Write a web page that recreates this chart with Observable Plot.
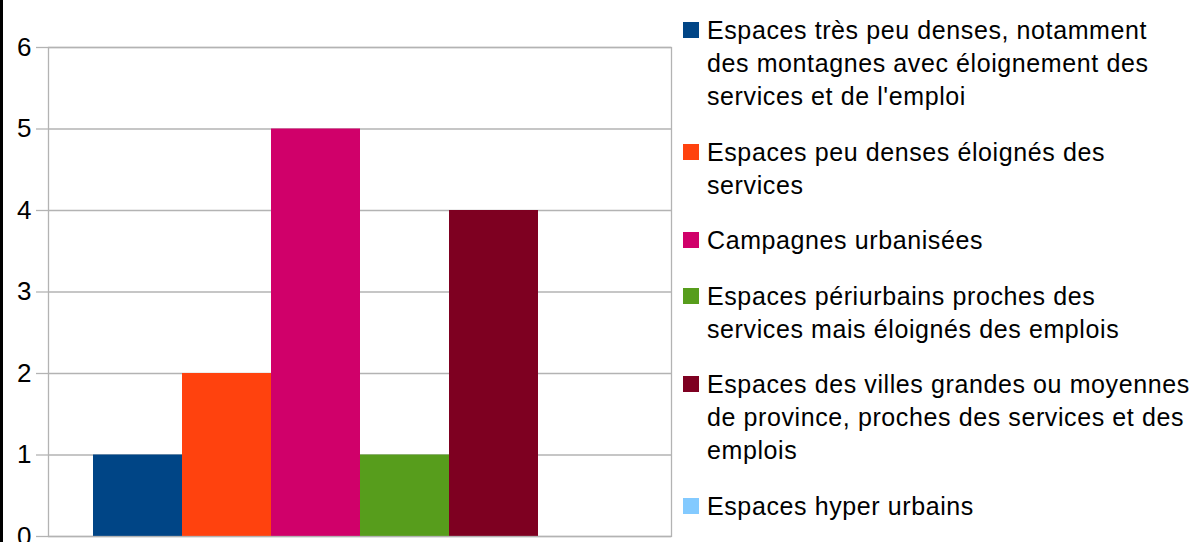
<!DOCTYPE html>
<html>
<head>
<meta charset="utf-8">
<script src="https://cdn.jsdelivr.net/npm/d3@7"></script>
<script src="https://cdn.jsdelivr.net/npm/@observablehq/plot@0.6"></script>
<style>
  html, body { margin: 0; padding: 0; background: #fff; }
  body { width: 1189px; height: 542px; position: relative; overflow: hidden; font-family: "Liberation Sans", Arial, sans-serif; }
  #border { position: absolute; left: 0; top: 0; width: 3px; height: 542px; background: #000; }
  #chart { position: absolute; left: 0; top: 0; }
  #legend { position: absolute; left: 683px; top: 14px; display: flex; flex-direction: column; gap: 22.6px; }
  .item { position: relative; padding-left: 24px; font-size: 25px; line-height: 33px; letter-spacing: 0.6px; color: #000; white-space: nowrap; }
  .sw { position: absolute; left: 0; top: 8px; width: 16px; height: 16px; }
</style>
</head>
<body>
<div id="border"></div>
<div id="chart"></div>
<div id="legend"></div>
<script>
const series = [
  "Espaces très peu denses, notamment des montagnes avec éloignement des services et de l'emploi",
  "Espaces peu denses éloignés des services",
  "Campagnes urbanisées",
  "Espaces périurbains proches des services mais éloignés des emplois",
  "Espaces des villes grandes ou moyennes de province, proches des services et des emplois",
  "Espaces hyper urbains"
];
const legendLines = [
  ["Espaces très peu denses, notamment", "des montagnes avec éloignement des", "services et de l'emploi"],
  ["Espaces peu denses éloignés des", "services"],
  ["Campagnes urbanisées"],
  ["Espaces périurbains proches des", "services mais éloignés des emplois"],
  ["Espaces des villes grandes ou moyennes", "de province, proches des services et des", "emplois"],
  ["Espaces hyper urbains"]
];
const values = [1, 2, 5, 1, 4, 0];
const colors = ["#004586", "#ff420e", "#d0006a", "#579d1c", "#7e0021", "#83caff"];
const yTicks = [0, 1, 2, 3, 4, 5, 6];

const data = series.map((s, i) => ({series: s, value: values[i]}));

const chart = Plot.plot({
  width: 675,
  height: 542,
  marginLeft: 48,
  marginRight: 4,
  marginTop: 47,
  marginBottom: 6,
  style: {fontFamily: "'Liberation Sans', Arial, sans-serif", fontSize: "26px", background: "transparent"},
  x: {domain: series, paddingInner: 0, paddingOuter: 0.5, axis: null},
  y: {domain: [0, 6]},
  color: {domain: series, range: colors},
  marks: [
    Plot.gridY(yTicks, {stroke: "#b3b3b3", strokeOpacity: 1, strokeWidth: 1.3}),
    Plot.barY(data, {x: "series", y: "value", fill: "series"}),
    Plot.frame({stroke: "#b3b3b3", strokeWidth: 1.3}),
    Plot.axisY(yTicks, {tickSize: 12, tickPadding: 5, stroke: "#b3b3b3", strokeWidth: 1.3, fill: "#000", fontSize: 26, tickFormat: d => String(d), label: null})
  ]
});
document.getElementById("chart").appendChild(chart);

const legend = document.getElementById("legend");
legendLines.forEach((lines, i) => {
  const item = document.createElement("div");
  item.className = "item";
  const sw = document.createElement("span");
  sw.className = "sw";
  sw.style.background = colors[i];
  item.appendChild(sw);
  lines.forEach((l, j) => {
    if (j > 0) item.appendChild(document.createElement("br"));
    item.appendChild(document.createTextNode(l));
  });
  legend.appendChild(item);
});
</script>
</body>
</html>
